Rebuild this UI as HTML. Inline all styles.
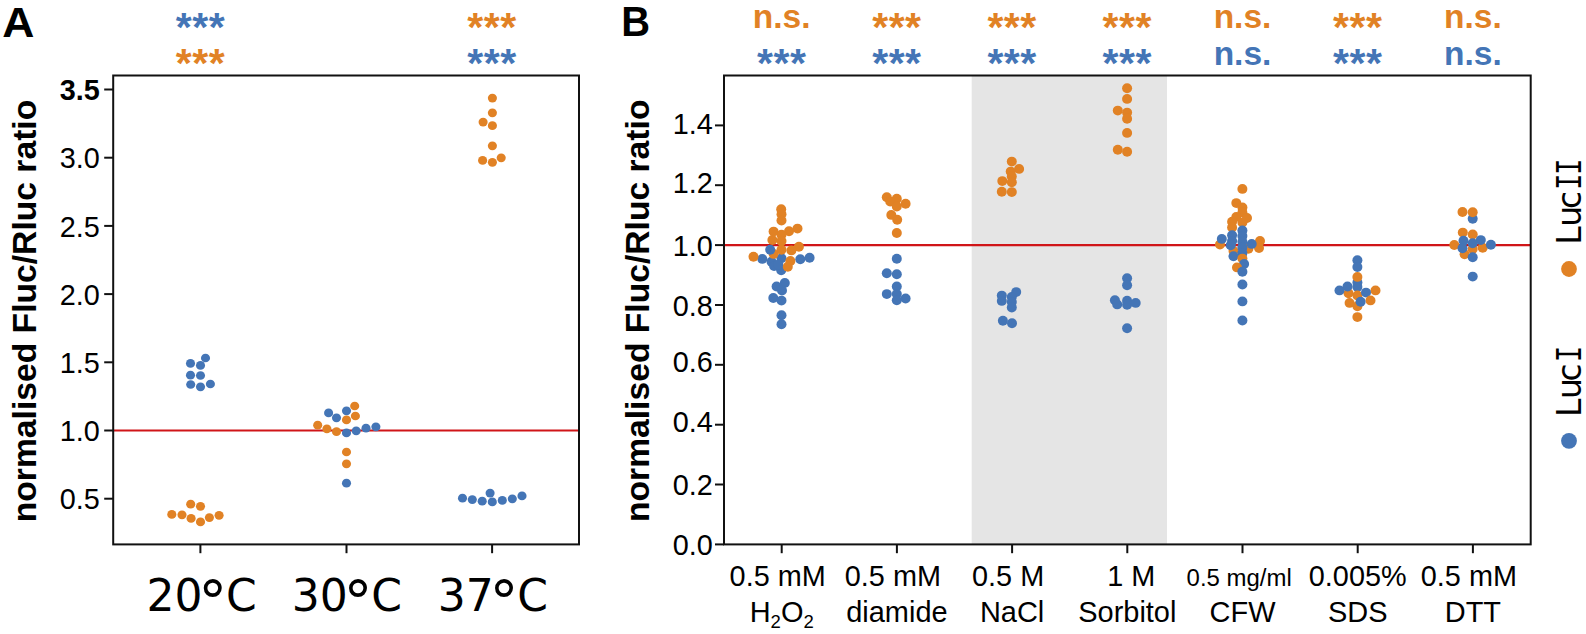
<!DOCTYPE html>
<html lang="en"><head><meta charset="utf-8"><title>Fluc/Rluc ratio figure</title>
<style>html,body{margin:0;padding:0;background:#fff}body{width:1586px;height:634px;overflow:hidden}svg{display:block}text{font-family:"Liberation Sans",sans-serif;fill:#000}.dj{font-family:"DejaVu Sans",sans-serif}.djm{font-family:"DejaVu Sans Mono",monospace}.b{font-weight:bold}.sig{font-weight:bold;text-anchor:middle}</style></head><body>
<svg width="1586" height="634" viewBox="0 0 1586 634">
<rect width="1586" height="634" fill="#fff"/>
<g id="panelA">
<text class="b" transform="translate(2.2,36.9) scale(1.03,1)" font-size="43.2">A</text>
<text class="sig" x="200.5" y="40.9" font-size="41" letter-spacing="0.5" fill="#4475b6" style="fill:#4475b6">***</text>
<text class="sig" x="200.5" y="77.3" font-size="41" letter-spacing="0.5" style="fill:#e18225">***</text>
<text class="sig" x="492" y="40.9" font-size="41" letter-spacing="0.5" style="fill:#e18225">***</text>
<text class="sig" x="492" y="77.3" font-size="41" letter-spacing="0.5" style="fill:#4475b6">***</text>
<line x1="113.2" x2="579.0" y1="430.5" y2="430.5" stroke="#d01518" stroke-width="2.2"/>
<ellipse cx="205.5" cy="358.0" rx="4.55" ry="4.35" fill="#4475b6"/>
<ellipse cx="190.5" cy="363.4" rx="4.55" ry="4.35" fill="#4475b6"/>
<ellipse cx="200.5" cy="365.4" rx="4.55" ry="4.35" fill="#4475b6"/>
<ellipse cx="190.5" cy="375.2" rx="4.55" ry="4.35" fill="#4475b6"/>
<ellipse cx="200.5" cy="375.5" rx="4.55" ry="4.35" fill="#4475b6"/>
<ellipse cx="190.7" cy="384.5" rx="4.55" ry="4.35" fill="#4475b6"/>
<ellipse cx="200.5" cy="386.8" rx="4.55" ry="4.35" fill="#4475b6"/>
<ellipse cx="210.4" cy="384.0" rx="4.55" ry="4.35" fill="#4475b6"/>
<ellipse cx="190.7" cy="504.2" rx="4.55" ry="4.35" fill="#e18225"/>
<ellipse cx="200.5" cy="506.3" rx="4.55" ry="4.35" fill="#e18225"/>
<ellipse cx="171.8" cy="514.4" rx="4.55" ry="4.35" fill="#e18225"/>
<ellipse cx="182.0" cy="514.8" rx="4.55" ry="4.35" fill="#e18225"/>
<ellipse cx="191.1" cy="518.4" rx="4.55" ry="4.35" fill="#e18225"/>
<ellipse cx="200.5" cy="521.9" rx="4.55" ry="4.35" fill="#e18225"/>
<ellipse cx="209.4" cy="517.6" rx="4.55" ry="4.35" fill="#e18225"/>
<ellipse cx="219.1" cy="515.3" rx="4.55" ry="4.35" fill="#e18225"/>
<ellipse cx="328.6" cy="412.9" rx="4.55" ry="4.35" fill="#4475b6"/>
<ellipse cx="346.5" cy="410.8" rx="4.55" ry="4.35" fill="#4475b6"/>
<ellipse cx="336.5" cy="417.8" rx="4.55" ry="4.35" fill="#4475b6"/>
<ellipse cx="354.7" cy="406.0" rx="4.55" ry="4.35" fill="#e18225"/>
<ellipse cx="355.4" cy="416.0" rx="4.55" ry="4.35" fill="#e18225"/>
<ellipse cx="346.5" cy="419.9" rx="4.55" ry="4.35" fill="#e18225"/>
<ellipse cx="317.7" cy="425.2" rx="4.55" ry="4.35" fill="#e18225"/>
<ellipse cx="326.9" cy="428.9" rx="4.55" ry="4.35" fill="#e18225"/>
<ellipse cx="336.5" cy="431.7" rx="4.55" ry="4.35" fill="#e18225"/>
<ellipse cx="346.5" cy="452.0" rx="4.55" ry="4.35" fill="#e18225"/>
<ellipse cx="346.5" cy="463.8" rx="4.55" ry="4.35" fill="#e18225"/>
<ellipse cx="346.5" cy="432.9" rx="4.55" ry="4.35" fill="#4475b6"/>
<ellipse cx="356.2" cy="430.8" rx="4.55" ry="4.35" fill="#4475b6"/>
<ellipse cx="366.0" cy="428.2" rx="4.55" ry="4.35" fill="#4475b6"/>
<ellipse cx="375.9" cy="426.8" rx="4.55" ry="4.35" fill="#4475b6"/>
<ellipse cx="346.5" cy="483.2" rx="4.55" ry="4.35" fill="#4475b6"/>
<ellipse cx="492.4" cy="98.1" rx="4.55" ry="4.35" fill="#e18225"/>
<ellipse cx="492.4" cy="112.8" rx="4.55" ry="4.35" fill="#e18225"/>
<ellipse cx="483.1" cy="122.1" rx="4.55" ry="4.35" fill="#e18225"/>
<ellipse cx="492.4" cy="125.7" rx="4.55" ry="4.35" fill="#e18225"/>
<ellipse cx="492.4" cy="145.8" rx="4.55" ry="4.35" fill="#e18225"/>
<ellipse cx="482.6" cy="160.4" rx="4.55" ry="4.35" fill="#e18225"/>
<ellipse cx="492.4" cy="162.3" rx="4.55" ry="4.35" fill="#e18225"/>
<ellipse cx="501.2" cy="157.8" rx="4.55" ry="4.35" fill="#e18225"/>
<ellipse cx="462.5" cy="498.2" rx="4.55" ry="4.35" fill="#4475b6"/>
<ellipse cx="472.3" cy="499.6" rx="4.55" ry="4.35" fill="#4475b6"/>
<ellipse cx="482.2" cy="501.2" rx="4.55" ry="4.35" fill="#4475b6"/>
<ellipse cx="490.1" cy="493.1" rx="4.55" ry="4.35" fill="#4475b6"/>
<ellipse cx="492.3" cy="501.9" rx="4.55" ry="4.35" fill="#4475b6"/>
<ellipse cx="502.3" cy="500.4" rx="4.55" ry="4.35" fill="#4475b6"/>
<ellipse cx="512.3" cy="498.8" rx="4.55" ry="4.35" fill="#4475b6"/>
<ellipse cx="522.0" cy="495.9" rx="4.55" ry="4.35" fill="#4475b6"/>
<rect x="113.2" y="75.5" width="465.8" height="468.9" fill="none" stroke="#111" stroke-width="2.0"/>
<line x1="104.2" x2="113.2" y1="498.7" y2="498.7" stroke="#111" stroke-width="2.0"/>
<text class="tk" transform="translate(99.8,509.3) scale(0.955,1)" font-size="30.2" text-anchor="end">0.5</text>
<line x1="104.2" x2="113.2" y1="430.5" y2="430.5" stroke="#111" stroke-width="2.0"/>
<text class="tk" transform="translate(99.8,441.1) scale(0.955,1)" font-size="30.2" text-anchor="end">1.0</text>
<line x1="104.2" x2="113.2" y1="362.3" y2="362.3" stroke="#111" stroke-width="2.0"/>
<text class="tk" transform="translate(99.8,372.9) scale(0.955,1)" font-size="30.2" text-anchor="end">1.5</text>
<line x1="104.2" x2="113.2" y1="294.1" y2="294.1" stroke="#111" stroke-width="2.0"/>
<text class="tk" transform="translate(99.8,304.7) scale(0.955,1)" font-size="30.2" text-anchor="end">2.0</text>
<line x1="104.2" x2="113.2" y1="225.9" y2="225.9" stroke="#111" stroke-width="2.0"/>
<text class="tk" transform="translate(99.8,236.5) scale(0.955,1)" font-size="30.2" text-anchor="end">2.5</text>
<line x1="104.2" x2="113.2" y1="157.7" y2="157.7" stroke="#111" stroke-width="2.0"/>
<text class="tk" transform="translate(99.8,168.3) scale(0.955,1)" font-size="30.2" text-anchor="end">3.0</text>
<line x1="104.2" x2="113.2" y1="89.5" y2="89.5" stroke="#111" stroke-width="2.0"/>
<text class="tk b" transform="translate(99.8,100.1) scale(0.955,1)" font-size="30.2" text-anchor="end">3.5</text>
<line x1="200.4" x2="200.4" y1="544.4" y2="553.1999999999999" stroke="#111" stroke-width="2.0"/>
<text class="dj" x="146.5" y="610.6" font-size="44">20<tspan font-size="58" x="198.3" dy="11.3">°</tspan><tspan x="226.0" dy="-11.3">C</tspan></text>
<line x1="346.5" x2="346.5" y1="544.4" y2="553.1999999999999" stroke="#111" stroke-width="2.0"/>
<text class="dj" x="291.8" y="610.6" font-size="44">30<tspan font-size="58" x="343.6" dy="11.3">°</tspan><tspan x="371.3" dy="-11.3">C</tspan></text>
<line x1="492.1" x2="492.1" y1="544.4" y2="553.1999999999999" stroke="#111" stroke-width="2.0"/>
<text class="dj" x="437.8" y="610.6" font-size="44">37<tspan font-size="58" x="489.6" dy="11.3">°</tspan><tspan x="517.3" dy="-11.3">C</tspan></text>
<text class="b" font-size="33.65" text-anchor="middle" transform="translate(35.7,311.0) rotate(-90)">normalised Fluc/Rluc ratio</text>
</g>
<g id="panelB">
<text class="b" transform="translate(621.2,35.9) scale(0.92,1)" font-size="43.4">B</text>
<rect x="971.7" y="75.5" width="195.3" height="468.9" fill="#e5e5e5"/>
<line x1="724.0" x2="1530.7" y1="245.2" y2="245.2" stroke="#d01518" stroke-width="2.2"/>
<ellipse cx="762.3" cy="258.9" rx="5.0" ry="4.95" fill="#4475b6"/>
<ellipse cx="781.5" cy="258.2" rx="5.0" ry="4.95" fill="#4475b6"/>
<ellipse cx="771.5" cy="261.7" rx="5.0" ry="4.95" fill="#4475b6"/>
<ellipse cx="774.1" cy="266.0" rx="5.0" ry="4.95" fill="#4475b6"/>
<ellipse cx="781.2" cy="270.2" rx="5.0" ry="4.95" fill="#4475b6"/>
<ellipse cx="800.3" cy="259.2" rx="5.0" ry="4.95" fill="#4475b6"/>
<ellipse cx="809.6" cy="257.7" rx="5.0" ry="4.95" fill="#4475b6"/>
<ellipse cx="778.3" cy="264.6" rx="5.0" ry="4.95" fill="#4475b6"/>
<ellipse cx="784.8" cy="282.9" rx="5.0" ry="4.95" fill="#4475b6"/>
<ellipse cx="776.6" cy="286.5" rx="5.0" ry="4.95" fill="#4475b6"/>
<ellipse cx="782.0" cy="290.5" rx="5.0" ry="4.95" fill="#4475b6"/>
<ellipse cx="773.3" cy="298.0" rx="5.0" ry="4.95" fill="#4475b6"/>
<ellipse cx="781.5" cy="300.6" rx="5.0" ry="4.95" fill="#4475b6"/>
<ellipse cx="781.5" cy="315.3" rx="5.0" ry="4.95" fill="#4475b6"/>
<ellipse cx="781.5" cy="324.3" rx="5.0" ry="4.95" fill="#4475b6"/>
<ellipse cx="781.2" cy="209.2" rx="5.0" ry="4.95" fill="#e18225"/>
<ellipse cx="781.5" cy="214.2" rx="5.0" ry="4.95" fill="#e18225"/>
<ellipse cx="781.5" cy="220.6" rx="5.0" ry="4.95" fill="#e18225"/>
<ellipse cx="797.5" cy="228.6" rx="5.0" ry="4.95" fill="#e18225"/>
<ellipse cx="789.0" cy="231.2" rx="5.0" ry="4.95" fill="#e18225"/>
<ellipse cx="773.6" cy="231.6" rx="5.0" ry="4.95" fill="#e18225"/>
<ellipse cx="781.5" cy="234.8" rx="5.0" ry="4.95" fill="#e18225"/>
<ellipse cx="772.4" cy="240.0" rx="5.0" ry="4.95" fill="#e18225"/>
<ellipse cx="781.5" cy="241.1" rx="5.0" ry="4.95" fill="#e18225"/>
<ellipse cx="798.9" cy="246.8" rx="5.0" ry="4.95" fill="#e18225"/>
<ellipse cx="781.5" cy="249.7" rx="5.0" ry="4.95" fill="#e18225"/>
<ellipse cx="791.4" cy="250.4" rx="5.0" ry="4.95" fill="#e18225"/>
<ellipse cx="773.6" cy="253.9" rx="5.0" ry="4.95" fill="#e18225"/>
<ellipse cx="753.5" cy="256.8" rx="5.0" ry="4.95" fill="#e18225"/>
<ellipse cx="790.4" cy="261.0" rx="5.0" ry="4.95" fill="#e18225"/>
<ellipse cx="787.8" cy="266.7" rx="5.0" ry="4.95" fill="#e18225"/>
<ellipse cx="770.2" cy="249.7" rx="5.0" ry="4.95" fill="#4475b6"/>
<ellipse cx="886.8" cy="197.2" rx="5.0" ry="4.95" fill="#e18225"/>
<ellipse cx="896.8" cy="198.8" rx="5.0" ry="4.95" fill="#e18225"/>
<ellipse cx="890.2" cy="201.6" rx="5.0" ry="4.95" fill="#e18225"/>
<ellipse cx="905.6" cy="203.8" rx="5.0" ry="4.95" fill="#e18225"/>
<ellipse cx="896.8" cy="206.5" rx="5.0" ry="4.95" fill="#e18225"/>
<ellipse cx="891.3" cy="214.9" rx="5.0" ry="4.95" fill="#e18225"/>
<ellipse cx="897.2" cy="219.7" rx="5.0" ry="4.95" fill="#e18225"/>
<ellipse cx="896.8" cy="233.0" rx="5.0" ry="4.95" fill="#e18225"/>
<ellipse cx="896.8" cy="258.8" rx="5.0" ry="4.95" fill="#4475b6"/>
<ellipse cx="886.8" cy="273.2" rx="5.0" ry="4.95" fill="#4475b6"/>
<ellipse cx="896.8" cy="274.3" rx="5.0" ry="4.95" fill="#4475b6"/>
<ellipse cx="896.8" cy="286.4" rx="5.0" ry="4.95" fill="#4475b6"/>
<ellipse cx="886.8" cy="294.1" rx="5.0" ry="4.95" fill="#4475b6"/>
<ellipse cx="896.8" cy="294.1" rx="5.0" ry="4.95" fill="#4475b6"/>
<ellipse cx="896.8" cy="300.3" rx="5.0" ry="4.95" fill="#4475b6"/>
<ellipse cx="905.6" cy="298.5" rx="5.0" ry="4.95" fill="#4475b6"/>
<ellipse cx="1011.8" cy="161.6" rx="5.0" ry="4.95" fill="#e18225"/>
<ellipse cx="1019.1" cy="168.9" rx="5.0" ry="4.95" fill="#e18225"/>
<ellipse cx="1010.7" cy="171.6" rx="5.0" ry="4.95" fill="#e18225"/>
<ellipse cx="1011.8" cy="176.4" rx="5.0" ry="4.95" fill="#e18225"/>
<ellipse cx="1002.3" cy="181.1" rx="5.0" ry="4.95" fill="#e18225"/>
<ellipse cx="1011.8" cy="182.2" rx="5.0" ry="4.95" fill="#e18225"/>
<ellipse cx="1001.8" cy="191.7" rx="5.0" ry="4.95" fill="#e18225"/>
<ellipse cx="1011.8" cy="192.1" rx="5.0" ry="4.95" fill="#e18225"/>
<ellipse cx="1016.2" cy="292.1" rx="5.0" ry="4.95" fill="#4475b6"/>
<ellipse cx="1001.8" cy="295.6" rx="5.0" ry="4.95" fill="#4475b6"/>
<ellipse cx="1011.8" cy="297.0" rx="5.0" ry="4.95" fill="#4475b6"/>
<ellipse cx="1001.8" cy="300.9" rx="5.0" ry="4.95" fill="#4475b6"/>
<ellipse cx="1011.8" cy="302.0" rx="5.0" ry="4.95" fill="#4475b6"/>
<ellipse cx="1011.8" cy="307.5" rx="5.0" ry="4.95" fill="#4475b6"/>
<ellipse cx="1002.9" cy="320.8" rx="5.0" ry="4.95" fill="#4475b6"/>
<ellipse cx="1012.0" cy="323.2" rx="5.0" ry="4.95" fill="#4475b6"/>
<ellipse cx="1127.1" cy="88.3" rx="5.0" ry="4.95" fill="#e18225"/>
<ellipse cx="1127.1" cy="98.9" rx="5.0" ry="4.95" fill="#e18225"/>
<ellipse cx="1117.8" cy="110.6" rx="5.0" ry="4.95" fill="#e18225"/>
<ellipse cx="1127.1" cy="112.6" rx="5.0" ry="4.95" fill="#e18225"/>
<ellipse cx="1127.1" cy="118.8" rx="5.0" ry="4.95" fill="#e18225"/>
<ellipse cx="1127.1" cy="132.9" rx="5.0" ry="4.95" fill="#e18225"/>
<ellipse cx="1117.8" cy="149.7" rx="5.0" ry="4.95" fill="#e18225"/>
<ellipse cx="1127.1" cy="151.7" rx="5.0" ry="4.95" fill="#e18225"/>
<ellipse cx="1127.1" cy="278.3" rx="5.0" ry="4.95" fill="#4475b6"/>
<ellipse cx="1127.1" cy="285.3" rx="5.0" ry="4.95" fill="#4475b6"/>
<ellipse cx="1114.9" cy="300.2" rx="5.0" ry="4.95" fill="#4475b6"/>
<ellipse cx="1117.2" cy="304.4" rx="5.0" ry="4.95" fill="#4475b6"/>
<ellipse cx="1127.1" cy="300.7" rx="5.0" ry="4.95" fill="#4475b6"/>
<ellipse cx="1127.1" cy="304.8" rx="5.0" ry="4.95" fill="#4475b6"/>
<ellipse cx="1135.7" cy="302.9" rx="5.0" ry="4.95" fill="#4475b6"/>
<ellipse cx="1127.1" cy="328.2" rx="5.0" ry="4.95" fill="#4475b6"/>
<ellipse cx="1242.4" cy="188.9" rx="5.0" ry="4.95" fill="#e18225"/>
<ellipse cx="1236.3" cy="203.1" rx="5.0" ry="4.95" fill="#e18225"/>
<ellipse cx="1242.4" cy="207.4" rx="5.0" ry="4.95" fill="#e18225"/>
<ellipse cx="1242.4" cy="212.6" rx="5.0" ry="4.95" fill="#e18225"/>
<ellipse cx="1236.3" cy="216.9" rx="5.0" ry="4.95" fill="#e18225"/>
<ellipse cx="1247.0" cy="218.0" rx="5.0" ry="4.95" fill="#e18225"/>
<ellipse cx="1242.4" cy="222.6" rx="5.0" ry="4.95" fill="#e18225"/>
<ellipse cx="1232.1" cy="221.8" rx="5.0" ry="4.95" fill="#e18225"/>
<ellipse cx="1232.1" cy="227.5" rx="5.0" ry="4.95" fill="#e18225"/>
<ellipse cx="1260.0" cy="241.0" rx="5.0" ry="4.95" fill="#e18225"/>
<ellipse cx="1259.0" cy="248.1" rx="5.0" ry="4.95" fill="#e18225"/>
<ellipse cx="1220.0" cy="244.6" rx="5.0" ry="4.95" fill="#e18225"/>
<ellipse cx="1248.4" cy="248.8" rx="5.0" ry="4.95" fill="#e18225"/>
<ellipse cx="1233.5" cy="251.0" rx="5.0" ry="4.95" fill="#e18225"/>
<ellipse cx="1242.4" cy="230.4" rx="5.0" ry="4.95" fill="#4475b6"/>
<ellipse cx="1242.4" cy="236.0" rx="5.0" ry="4.95" fill="#4475b6"/>
<ellipse cx="1232.1" cy="235.3" rx="5.0" ry="4.95" fill="#4475b6"/>
<ellipse cx="1232.1" cy="241.0" rx="5.0" ry="4.95" fill="#4475b6"/>
<ellipse cx="1221.8" cy="238.9" rx="5.0" ry="4.95" fill="#4475b6"/>
<ellipse cx="1242.4" cy="241.7" rx="5.0" ry="4.95" fill="#4475b6"/>
<ellipse cx="1251.7" cy="243.9" rx="5.0" ry="4.95" fill="#4475b6"/>
<ellipse cx="1230.7" cy="245.3" rx="5.0" ry="4.95" fill="#4475b6"/>
<ellipse cx="1242.4" cy="247.4" rx="5.0" ry="4.95" fill="#4475b6"/>
<ellipse cx="1242.4" cy="253.1" rx="5.0" ry="4.95" fill="#4475b6"/>
<ellipse cx="1233.5" cy="256.3" rx="5.0" ry="4.95" fill="#4475b6"/>
<ellipse cx="1242.4" cy="258.6" rx="5.0" ry="4.95" fill="#e18225"/>
<ellipse cx="1244.1" cy="263.9" rx="5.0" ry="4.95" fill="#4475b6"/>
<ellipse cx="1237.0" cy="267.4" rx="5.0" ry="4.95" fill="#e18225"/>
<ellipse cx="1242.4" cy="271.7" rx="5.0" ry="4.95" fill="#4475b6"/>
<ellipse cx="1242.4" cy="284.5" rx="5.0" ry="4.95" fill="#4475b6"/>
<ellipse cx="1242.4" cy="301.4" rx="5.0" ry="4.95" fill="#4475b6"/>
<ellipse cx="1242.4" cy="320.5" rx="5.0" ry="4.95" fill="#4475b6"/>
<ellipse cx="1357.4" cy="260.3" rx="5.0" ry="4.95" fill="#4475b6"/>
<ellipse cx="1357.4" cy="267.0" rx="5.0" ry="4.95" fill="#4475b6"/>
<ellipse cx="1357.4" cy="282.6" rx="5.0" ry="4.95" fill="#4475b6"/>
<ellipse cx="1357.4" cy="276.9" rx="5.0" ry="4.95" fill="#e18225"/>
<ellipse cx="1357.4" cy="286.9" rx="5.0" ry="4.95" fill="#4475b6"/>
<ellipse cx="1375.5" cy="290.4" rx="5.0" ry="4.95" fill="#e18225"/>
<ellipse cx="1348.5" cy="293.3" rx="5.0" ry="4.95" fill="#e18225"/>
<ellipse cx="1347.5" cy="286.5" rx="5.0" ry="4.95" fill="#4475b6"/>
<ellipse cx="1339.5" cy="290.4" rx="5.0" ry="4.95" fill="#4475b6"/>
<ellipse cx="1357.4" cy="295.4" rx="5.0" ry="4.95" fill="#e18225"/>
<ellipse cx="1366.0" cy="292.6" rx="5.0" ry="4.95" fill="#4475b6"/>
<ellipse cx="1370.5" cy="300.4" rx="5.0" ry="4.95" fill="#e18225"/>
<ellipse cx="1349.6" cy="302.9" rx="5.0" ry="4.95" fill="#e18225"/>
<ellipse cx="1357.4" cy="306.3" rx="5.0" ry="4.95" fill="#e18225"/>
<ellipse cx="1360.6" cy="301.8" rx="5.0" ry="4.95" fill="#4475b6"/>
<ellipse cx="1357.4" cy="317.1" rx="5.0" ry="4.95" fill="#e18225"/>
<ellipse cx="1472.7" cy="218.7" rx="5.0" ry="4.95" fill="#4475b6"/>
<ellipse cx="1462.5" cy="212.0" rx="5.0" ry="4.95" fill="#e18225"/>
<ellipse cx="1472.7" cy="212.3" rx="5.0" ry="4.95" fill="#e18225"/>
<ellipse cx="1462.8" cy="232.6" rx="5.0" ry="4.95" fill="#e18225"/>
<ellipse cx="1472.7" cy="234.5" rx="5.0" ry="4.95" fill="#e18225"/>
<ellipse cx="1454.3" cy="245.0" rx="5.0" ry="4.95" fill="#e18225"/>
<ellipse cx="1472.7" cy="248.9" rx="5.0" ry="4.95" fill="#e18225"/>
<ellipse cx="1482.7" cy="247.8" rx="5.0" ry="4.95" fill="#e18225"/>
<ellipse cx="1464.6" cy="254.3" rx="5.0" ry="4.95" fill="#e18225"/>
<ellipse cx="1463.5" cy="240.7" rx="5.0" ry="4.95" fill="#4475b6"/>
<ellipse cx="1480.8" cy="240.1" rx="5.0" ry="4.95" fill="#4475b6"/>
<ellipse cx="1472.7" cy="243.3" rx="5.0" ry="4.95" fill="#4475b6"/>
<ellipse cx="1490.9" cy="244.7" rx="5.0" ry="4.95" fill="#4475b6"/>
<ellipse cx="1462.5" cy="248.2" rx="5.0" ry="4.95" fill="#4475b6"/>
<ellipse cx="1472.7" cy="257.2" rx="5.0" ry="4.95" fill="#4475b6"/>
<ellipse cx="1472.7" cy="276.6" rx="5.0" ry="4.95" fill="#4475b6"/>
<rect x="724.0" y="75.5" width="806.7" height="468.9" fill="none" stroke="#111" stroke-width="2.0"/>
<line x1="715.0" x2="724.0" y1="544.4" y2="544.4" stroke="#111" stroke-width="2.0"/>
<text transform="translate(712.8,554.8) scale(0.955,1)" font-size="30.2" text-anchor="end">0.0</text>
<line x1="715.0" x2="724.0" y1="484.5" y2="484.5" stroke="#111" stroke-width="2.0"/>
<text transform="translate(712.8,494.8) scale(0.955,1)" font-size="30.2" text-anchor="end">0.2</text>
<line x1="715.0" x2="724.0" y1="424.7" y2="424.7" stroke="#111" stroke-width="2.0"/>
<text transform="translate(712.8,431.5) scale(0.955,1)" font-size="30.2" text-anchor="end">0.4</text>
<line x1="715.0" x2="724.0" y1="364.8" y2="364.8" stroke="#111" stroke-width="2.0"/>
<text transform="translate(712.8,371.8) scale(0.955,1)" font-size="30.2" text-anchor="end">0.6</text>
<line x1="715.0" x2="724.0" y1="305.0" y2="305.0" stroke="#111" stroke-width="2.0"/>
<text transform="translate(712.8,316.2) scale(0.955,1)" font-size="30.2" text-anchor="end">0.8</text>
<line x1="715.0" x2="724.0" y1="245.1" y2="245.1" stroke="#111" stroke-width="2.0"/>
<text transform="translate(712.8,256.1) scale(0.955,1)" font-size="30.2" text-anchor="end">1.0</text>
<line x1="715.0" x2="724.0" y1="185.2" y2="185.2" stroke="#111" stroke-width="2.0"/>
<text transform="translate(712.8,193.3) scale(0.955,1)" font-size="30.2" text-anchor="end">1.2</text>
<line x1="715.0" x2="724.0" y1="125.4" y2="125.4" stroke="#111" stroke-width="2.0"/>
<text transform="translate(712.8,133.60000000000002) scale(0.955,1)" font-size="30.2" text-anchor="end">1.4</text>
<text class="sig" x="781.7" y="28" font-size="33.5" style="fill:#e18225">n.s.</text>
<text class="sig" x="781.7" y="77.39999999999999" font-size="41" letter-spacing="0.5" style="fill:#4475b6">***</text>
<text class="sig" x="896.9" y="40.8" font-size="41" letter-spacing="0.5" style="fill:#e18225">***</text>
<text class="sig" x="896.9" y="77.39999999999999" font-size="41" letter-spacing="0.5" style="fill:#4475b6">***</text>
<text class="sig" x="1012.1" y="40.8" font-size="41" letter-spacing="0.5" style="fill:#e18225">***</text>
<text class="sig" x="1012.1" y="77.39999999999999" font-size="41" letter-spacing="0.5" style="fill:#4475b6">***</text>
<text class="sig" x="1127.3" y="40.8" font-size="41" letter-spacing="0.5" style="fill:#e18225">***</text>
<text class="sig" x="1127.3" y="77.39999999999999" font-size="41" letter-spacing="0.5" style="fill:#4475b6">***</text>
<text class="sig" x="1242.5" y="28" font-size="33.5" style="fill:#e18225">n.s.</text>
<text class="sig" x="1242.5" y="64.6" font-size="33.5" style="fill:#4475b6">n.s.</text>
<text class="sig" x="1357.7" y="40.8" font-size="41" letter-spacing="0.5" style="fill:#e18225">***</text>
<text class="sig" x="1357.7" y="77.39999999999999" font-size="41" letter-spacing="0.5" style="fill:#4475b6">***</text>
<text class="sig" x="1472.9" y="28" font-size="33.5" style="fill:#e18225">n.s.</text>
<text class="sig" x="1472.9" y="64.6" font-size="33.5" style="fill:#4475b6">n.s.</text>
<line x1="781.7" x2="781.7" y1="544.4" y2="553.1999999999999" stroke="#111" stroke-width="2.0"/>
<text transform="translate(781.7,585.6) scale(0.972,1)" font-size="29.7" text-anchor="middle" xml:space="preserve">0.5 mM </text>
<text transform="translate(781.7,621.8) scale(0.975,1)" font-size="29.7" text-anchor="middle">H<tspan font-size="19" dy="6">2</tspan><tspan dy="-6">O</tspan><tspan font-size="19" dy="6">2</tspan></text>
<line x1="896.9" x2="896.9" y1="544.4" y2="553.1999999999999" stroke="#111" stroke-width="2.0"/>
<text transform="translate(896.9,585.6) scale(0.972,1)" font-size="29.7" text-anchor="middle" xml:space="preserve">0.5 mM </text>
<text transform="translate(896.9,621.8) scale(0.975,1)" font-size="29.7" text-anchor="middle">diamide</text>
<line x1="1012.1" x2="1012.1" y1="544.4" y2="553.1999999999999" stroke="#111" stroke-width="2.0"/>
<text transform="translate(1012.1,585.6) scale(0.972,1)" font-size="29.7" text-anchor="middle" xml:space="preserve">0.5 M </text>
<text transform="translate(1012.1,621.8) scale(0.975,1)" font-size="29.7" text-anchor="middle">NaCl</text>
<line x1="1127.3" x2="1127.3" y1="544.4" y2="553.1999999999999" stroke="#111" stroke-width="2.0"/>
<text transform="translate(1127.3,585.6) scale(0.972,1)" font-size="29.7" text-anchor="middle" xml:space="preserve"> 1 M</text>
<text transform="translate(1127.3,621.8) scale(0.975,1)" font-size="29.7" text-anchor="middle">Sorbitol</text>
<line x1="1242.5" x2="1242.5" y1="544.4" y2="553.1999999999999" stroke="#111" stroke-width="2.0"/>
<text transform="translate(1242.5,585.6) scale(1.015,1)" font-size="23.6" text-anchor="middle" xml:space="preserve">0.5 mg/ml </text>
<text transform="translate(1242.5,621.8) scale(0.975,1)" font-size="29.7" text-anchor="middle">CFW</text>
<line x1="1357.7" x2="1357.7" y1="544.4" y2="553.1999999999999" stroke="#111" stroke-width="2.0"/>
<text transform="translate(1357.7,585.6) scale(0.972,1)" font-size="29.7" text-anchor="middle" xml:space="preserve">0.005%</text>
<text transform="translate(1357.7,621.8) scale(0.975,1)" font-size="29.7" text-anchor="middle">SDS</text>
<line x1="1472.9" x2="1472.9" y1="544.4" y2="553.1999999999999" stroke="#111" stroke-width="2.0"/>
<text transform="translate(1472.9,585.6) scale(0.972,1)" font-size="29.7" text-anchor="middle" xml:space="preserve">0.5 mM </text>
<text transform="translate(1472.9,621.8) scale(0.975,1)" font-size="29.7" text-anchor="middle">DTT</text>
<text class="b" font-size="33.65" text-anchor="middle" transform="translate(648.8,310.8) rotate(-90)">normalised Fluc/Rluc ratio</text>
<circle cx="1569.0" cy="269.0" r="7.9" fill="#e18225"/>
<text class="dj" font-size="33" transform="translate(1581.2,244.7) rotate(-90)" x="0 17.9 35.6">Luc</text>
<text class="djm" font-size="33" transform="translate(1581.2,190.0) rotate(-90) scale(0.83,1)">I</text>
<text class="djm" font-size="33" transform="translate(1581.2,175.0) rotate(-90) scale(0.83,1)">I</text>
<circle cx="1569.0" cy="440.8" r="7.9" fill="#4475b6"/>
<text class="dj" font-size="33" transform="translate(1581.2,417.0) rotate(-90)" x="0 17.9 35.6">Luc</text>
<text class="djm" font-size="33" transform="translate(1581.2,362.3) rotate(-90) scale(0.83,1)">I</text>
</g>
</svg></body></html>
